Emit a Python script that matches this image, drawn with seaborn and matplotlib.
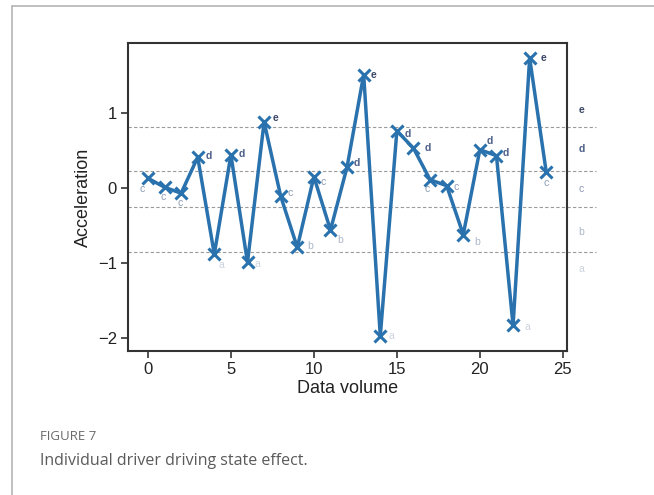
import matplotlib
matplotlib.use("Agg")
import matplotlib.pyplot as plt
import seaborn as sns
import pandas as pd
from matplotlib.lines import Line2D

# ---- data ----
x_vals = list(range(25))
acceleration = [0.13, 0.01, -0.07, 0.41, -0.88, 0.44, -0.99, 0.88, -0.11, -0.79,
                0.15, -0.56, 0.28, 1.51, -1.97, 0.76, 0.53, 0.11, 0.03, -0.62,
                0.51, 0.43, -1.83, 1.73, 0.21]
states = ["c", "c", "c", "d", "a", "d", "a", "e", "c", "b",
          "c", "b", "d", "e", "a", "d", "d", "c", "c", "b",
          "d", "d", "a", "e", "c"]
thresholds = [0.81, 0.23, -0.25, -0.85]
state_names = ["e", "d", "c", "b", "a"]
state_mid = [1.04, 0.52, -0.02, -0.58, -1.08]
x_ticks = [0, 5, 10, 15, 20, 25]
y_ticks = [-2, -1, 0, 1]

# ---- style ----
sns.set_theme(style="white")
plt.rcParams['font.family'] = ['Liberation Sans', 'DejaVu Sans']

state_colors = {"e": "#3b4766", "d": "#4d5f88", "c": "#8c9ab3",
                "b": "#aab6c9", "a": "#ccd3de"}
state_weight = {"e": "bold", "d": "bold", "c": "normal", "b": "normal", "a": "normal"}
# label offsets (points) per point
offsets = [(-4, -8), (-1, -7), (-1, -7), (8, 1), (5, -8), (8, 1), (7, -1), (8, 3), (7, 2), (9, 1),
           (7, -4), (7, -7), (7, 3), (7, 0), (8, 0), (8, -2), (10, 0), (-2, -7), (7, -1), (10, -5),
           (7, 6), (7, 2), (10, -1), (10, 0), (0, -8)]

fig = plt.figure(figsize=(6.54, 4.95), dpi=100)
fig.patch.set_facecolor("white")

# outer frame
fig.add_artist(Line2D([12/654, 1.0], [1-5.5/495, 1-5.5/495], transform=fig.transFigure,
                      color="#b5b5b5", lw=1.2))
fig.add_artist(Line2D([12/654, 12/654], [0, 1-5.5/495], transform=fig.transFigure,
                      color="#b5b5b5", lw=1.2))

ax = fig.add_axes([128/654, 1-351/495, 439/654, 308/495])
df = pd.DataFrame({"x": x_vals, "y": acceleration})
sns.lineplot(data=df, x="x", y="y", ax=ax, color="#2a72ad", lw=2.5,
             marker="x", markersize=8.5, markeredgewidth=2.2, markeredgecolor="#2a72ad")

for t in thresholds:
    ax.axhline(t, xmin=0, xmax=1.066, color="#9a9a9a", lw=0.8,
               ls=(0, (3, 2)), clip_on=False, zorder=0)

for xi, yi, s, off in zip(x_vals, acceleration, states, offsets):
    ax.annotate(s, (xi, yi), xytext=off, textcoords="offset points",
                ha="center", va="center", fontsize=7.5, color=state_colors[s],
                fontweight=state_weight[s])

for s, m in zip(state_names, state_mid):
    ax.annotate(s, (1.033, m), xycoords=("axes fraction", "data"),
                ha="center", va="center", fontsize=7.5, color=state_colors[s],
                fontweight=state_weight[s], annotation_clip=False)

ax.set_xlim(-1.2, 25.25)
ax.set_ylim(-2.17, 1.93)
ax.set_xticks(x_ticks)
ax.set_yticks(y_ticks)
ax.set_yticklabels(["\u22122", "\u22121", "0", "1"])
ax.tick_params(axis="both", direction="out", length=5, width=1.2, color="#333333",
               labelsize=12, labelcolor="#222222", bottom=True, left=True, pad=3)
for sp in ax.spines.values():
    sp.set_color("#333333")
    sp.set_linewidth(1.5)
ax.set_xlabel("Data volume", fontsize=13, color="#222222", labelpad=2)
ax.set_ylabel("Acceleration", fontsize=13, color="#222222", labelpad=4)
ax.grid(False)

fig.text(40/654, 1-437/495, "FIGURE 7", fontsize=9.5, color="#6a6a6a",
         family=["Open Sans", "DejaVu Sans"], va="center")
fig.text(40/654, 1-461/495, "Individual driver driving state effect.", fontsize=11.5,
         color="#5a5a5a", family=["Open Sans", "DejaVu Sans"], va="center")

fig.savefig("out.png", dpi=100, facecolor="white")
